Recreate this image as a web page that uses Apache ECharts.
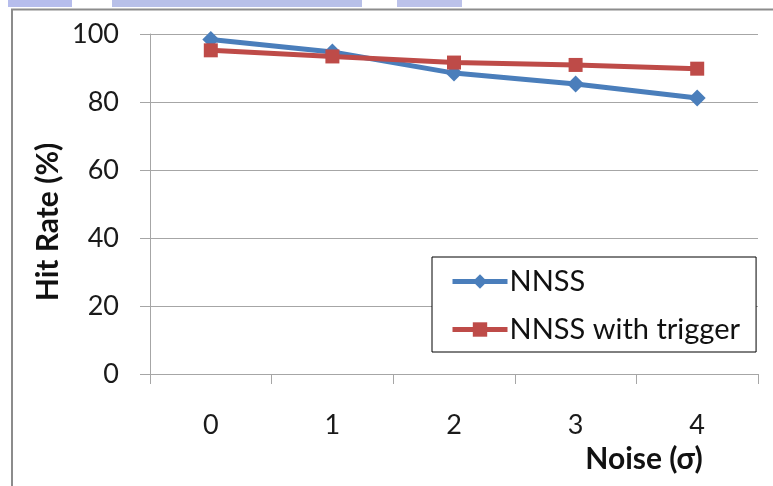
<!DOCTYPE html>
<html>
<head>
<meta charset="utf-8">
<script src="https://cdn.jsdelivr.net/npm/echarts@6/dist/echarts.min.js"></script>
<style>
html,body{margin:0;padding:0;background:#fff;}
#main{width:773px;height:486px;}
</style>
</head>
<body>
<div id="main"></div>
<script>
const categories = ['0', '1', '2', '3', '4'];
const nnss = [98.4, 94.7, 88.5, 85.3, 81.2];
const nnssTrigger = [95.2, 93.4, 91.6, 90.9, 89.8];
const seriesNames = ['NNSS', 'NNSS with trigger'];
const yTicks = { min: 0, max: 100, interval: 20 };
const yTitle = 'Hit Rate (%)';
const xTitle = 'Noise (σ)';

const FONT = 'Lato, "Open Sans", sans-serif';
const chart = echarts.init(document.getElementById('main'), null, { renderer: 'canvas' });

chart.setOption({
  backgroundColor: '#ffffff',
  animation: false,
  grid: { left: 150, right: 15, top: 34, bottom: 112, containLabel: false },
  xAxis: {
    type: 'category',
    data: categories,
    boundaryGap: true,
    axisLine: { show: true, lineStyle: { color: '#a6a6a6', width: 1 } },
    axisTick: { show: true, length: 10, alignWithLabel: false, lineStyle: { color: '#a6a6a6' } },
    axisLabel: { color: '#1a1a1a', fontFamily: FONT, fontSize: 27, margin: 38 },
    splitLine: { show: false }
  },
  yAxis: {
    type: 'value',
    min: yTicks.min, max: yTicks.max, interval: yTicks.interval,
    axisLine: { show: true, lineStyle: { color: '#a6a6a6', width: 1 } },
    axisTick: { show: true, length: 10, lineStyle: { color: '#a6a6a6' } },
    axisLabel: { color: '#1a1a1a', fontFamily: FONT, fontSize: 27, margin: 31 },
    splitLine: { show: true, lineStyle: { color: '#a6a6a6', width: 1 } }
  },
  legend: {
    orient: 'vertical',
    left: 432, top: 257,
    padding: [10, 16, 8, 18],
    itemGap: 19,
    itemWidth: 55,
    itemHeight: 18,
    borderColor: '#000', borderWidth: 1,
    backgroundColor: '#ffffff',
    lineStyle: { width: 5 },
    textStyle: { color: '#111', fontFamily: FONT, fontSize: 29, padding: [0, 0, 0, -3] },
    data: seriesNames
  },
  graphic: [
    { type: 'rect', shape: { x: 8, y: 0, width: 64, height: 7 }, style: { fill: '#b6bdec' }, silent: true },
    { type: 'rect', shape: { x: 112, y: 0, width: 250, height: 7 }, style: { fill: '#b8c0e8' }, silent: true },
    { type: 'rect', shape: { x: 397, y: 0, width: 65, height: 7 }, style: { fill: '#bcc2ea' }, silent: true },
    { type: 'line', shape: { x1: 11, y1: 9.5, x2: 773, y2: 9.5 }, style: { stroke: '#8c8c8c', lineWidth: 2 }, silent: true },
    { type: 'line', shape: { x1: 12, y1: 9, x2: 12, y2: 486 }, style: { stroke: '#8c8c8c', lineWidth: 2 }, silent: true },
    {
      type: 'text', x: 48, y: 222, rotation: Math.PI / 2,
      style: { text: yTitle, fontFamily: FONT, fontSize: 30, fontWeight: 'bold', fill: '#111', align: 'center', verticalAlign: 'middle' }
    },
    {
      type: 'text', x: 644, y: 459,
      style: { text: xTitle, fontFamily: FONT, fontSize: 30, fontWeight: 'bold', fill: '#111', align: 'center', verticalAlign: 'middle' }
    }
  ],
  series: [
    {
      name: seriesNames[0], type: 'line', data: nnss,
      symbol: 'diamond', symbolSize: 17,
      lineStyle: { color: '#4a7ebb', width: 5 },
      itemStyle: { color: '#4a7ebb' },
      z: 2
    },
    {
      name: seriesNames[1], type: 'line', data: nnssTrigger,
      symbol: 'rect', symbolSize: 14,
      lineStyle: { color: '#be4b48', width: 5 },
      itemStyle: { color: '#be4b48' },
      z: 3
    }
  ]
});
</script>
</body>
</html>
